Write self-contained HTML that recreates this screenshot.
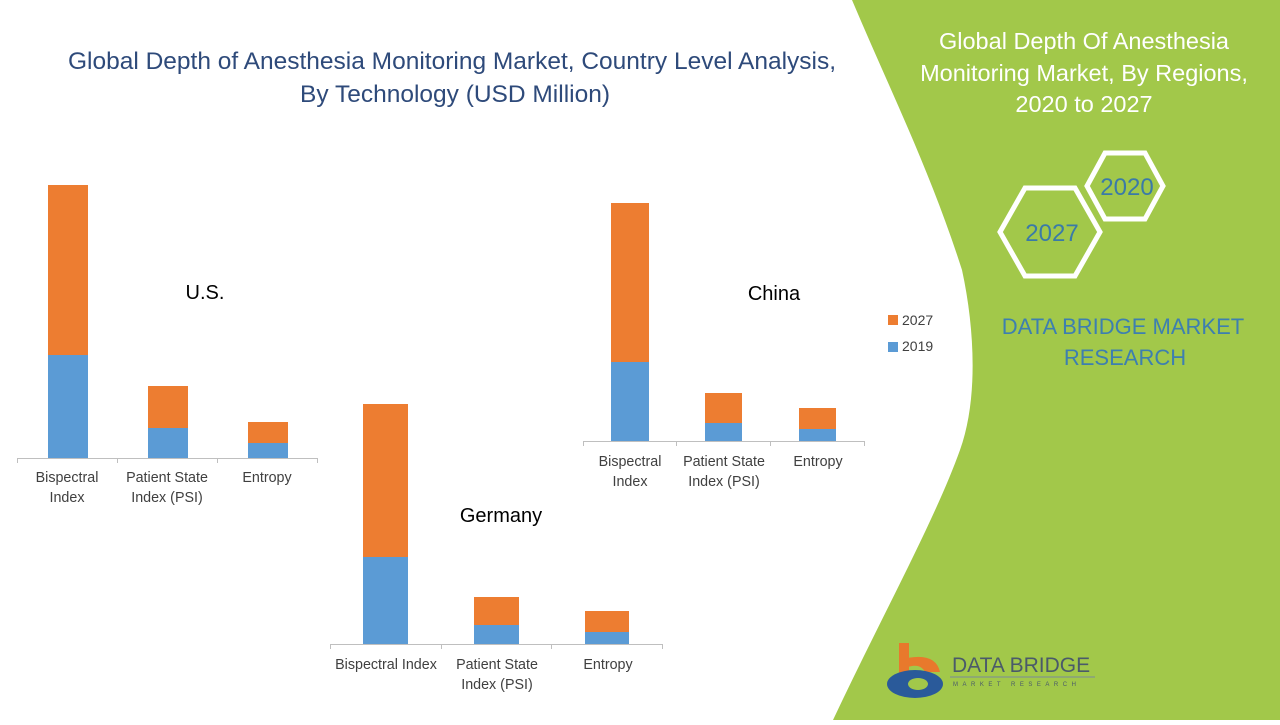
<!DOCTYPE html>
<html><head><meta charset="utf-8"><style>
body{margin:0;width:1280px;height:720px;overflow:hidden;background:#fff;font-family:"Liberation Sans",sans-serif;}
</style></head><body>
<svg width="1280" height="720" xmlns="http://www.w3.org/2000/svg" font-family="Liberation Sans, sans-serif">
<rect width="1280" height="720" fill="#fff"/>
<path d="M852,0 L1280,0 L1280,720 L833,720 C880,620 935,520 960,450 C978,400 975,330 962,270 C930,170 890,90 852,0 Z" fill="#a2c84a"/>
<g fill="#2e4a7a" font-size="24.5" text-anchor="middle">
<text x="452" y="69">Global Depth of Anesthesia Monitoring Market, Country Level Analysis,</text>
<text x="455" y="102">By Technology (USD Million)</text>
</g>
<g fill="#fff" font-size="23.5" text-anchor="middle">
<text x="1084" y="49">Global Depth Of Anesthesia</text>
<text x="1084" y="81">Monitoring Market, By Regions,</text>
<text x="1084" y="112">2020 to 2027</text>
</g>
<polygon points="1105,153 1145,153 1163,186 1145,219 1105,219 1087,186" fill="none" stroke="#fff" stroke-width="5"/>
<polygon points="1025,188 1075,188 1100,232 1075,276 1025,276 1000,232" fill="none" stroke="#fff" stroke-width="5"/>
<g fill="#3a7aa8" font-size="24" text-anchor="middle">
<text x="1127" y="195">2020</text>
<text x="1052" y="241">2027</text>
</g>
<g fill="#3d7fb0" font-size="22" text-anchor="middle">
<text x="1123" y="334">DATA BRIDGE MARKET</text>
<text x="1125" y="365">RESEARCH</text>
</g>
<rect x="899" y="643" width="10" height="30" fill="#e8792c"/>
<path d="M899,660 Q935,650 940,672 L925,672 Q920,662 905,668 Z" fill="#e8792c"/>
<ellipse cx="915" cy="684" rx="28" ry="14" fill="#2a5a9a"/>
<ellipse cx="918" cy="684" rx="10" ry="6" fill="#a2c84a"/>
<text x="952" y="672" fill="#4a5a6a" font-size="21">DATA BRIDGE</text>
<text x="953" y="686" fill="#4a5a6a" font-size="6" letter-spacing="4.5">MARKET RESEARCH</text>
<line x1="950" y1="677" x2="1095" y2="677" stroke="#7a8a9a" stroke-width="1"/>
<g stroke="#bfbfbf" stroke-width="1">
<line x1="17" y1="458.5" x2="317" y2="458.5"/>
<line x1="17.5" y1="458" x2="17.5" y2="463"/><line x1="117.5" y1="458" x2="117.5" y2="463"/><line x1="217.5" y1="458" x2="217.5" y2="463"/><line x1="317.5" y1="458" x2="317.5" y2="463"/>
<line x1="330" y1="644.5" x2="662" y2="644.5"/>
<line x1="330.5" y1="644" x2="330.5" y2="649"/><line x1="441.5" y1="644" x2="441.5" y2="649"/><line x1="551.5" y1="644" x2="551.5" y2="649"/><line x1="662.5" y1="644" x2="662.5" y2="649"/>
<line x1="583" y1="441.5" x2="864" y2="441.5"/>
<line x1="583.5" y1="441" x2="583.5" y2="446"/><line x1="676.5" y1="441" x2="676.5" y2="446"/><line x1="770.5" y1="441" x2="770.5" y2="446"/><line x1="864.5" y1="441" x2="864.5" y2="446"/>
</g>
<g fill="#ed7d31">
<rect x="48" y="185" width="40" height="170"/><rect x="148" y="386" width="40" height="42"/><rect x="248" y="422" width="40" height="21"/>
<rect x="363" y="404" width="45" height="153"/><rect x="474" y="597" width="45" height="28"/><rect x="585" y="611" width="44" height="21"/>
<rect x="611" y="203" width="38" height="159"/><rect x="705" y="393" width="37" height="30"/><rect x="799" y="408" width="37" height="21"/>
<rect x="888" y="315" width="10" height="10"/>
</g>
<g fill="#5b9bd5">
<rect x="48" y="355" width="40" height="103"/><rect x="148" y="428" width="40" height="30"/><rect x="248" y="443" width="40" height="15"/>
<rect x="363" y="557" width="45" height="87"/><rect x="474" y="625" width="45" height="19"/><rect x="585" y="632" width="44" height="12"/>
<rect x="611" y="362" width="38" height="79"/><rect x="705" y="423" width="37" height="18"/><rect x="799" y="429" width="37" height="12"/>
<rect x="888" y="342" width="10" height="10"/>
</g>
<g fill="#404040" font-size="14.3" text-anchor="middle">
<text x="67" y="482">Bispectral</text><text x="67" y="502">Index</text>
<text x="167" y="482">Patient State</text><text x="167" y="502">Index (PSI)</text>
<text x="267" y="482">Entropy</text>
<text x="386" y="669">Bispectral Index</text>
<text x="497" y="669">Patient State</text><text x="497" y="689">Index (PSI)</text>
<text x="608" y="669">Entropy</text>
<text x="630" y="466">Bispectral</text><text x="630" y="486">Index</text>
<text x="724" y="466">Patient State</text><text x="724" y="486">Index (PSI)</text>
<text x="818" y="466">Entropy</text>
</g>
<g fill="#404040" font-size="14"><text x="902" y="325">2027</text><text x="902" y="351">2019</text></g>
<g fill="#000" font-size="20" text-anchor="middle">
<text x="205" y="299">U.S.</text><text x="501" y="522">Germany</text><text x="774" y="300">China</text>
</g>
</svg>
</body></html>
